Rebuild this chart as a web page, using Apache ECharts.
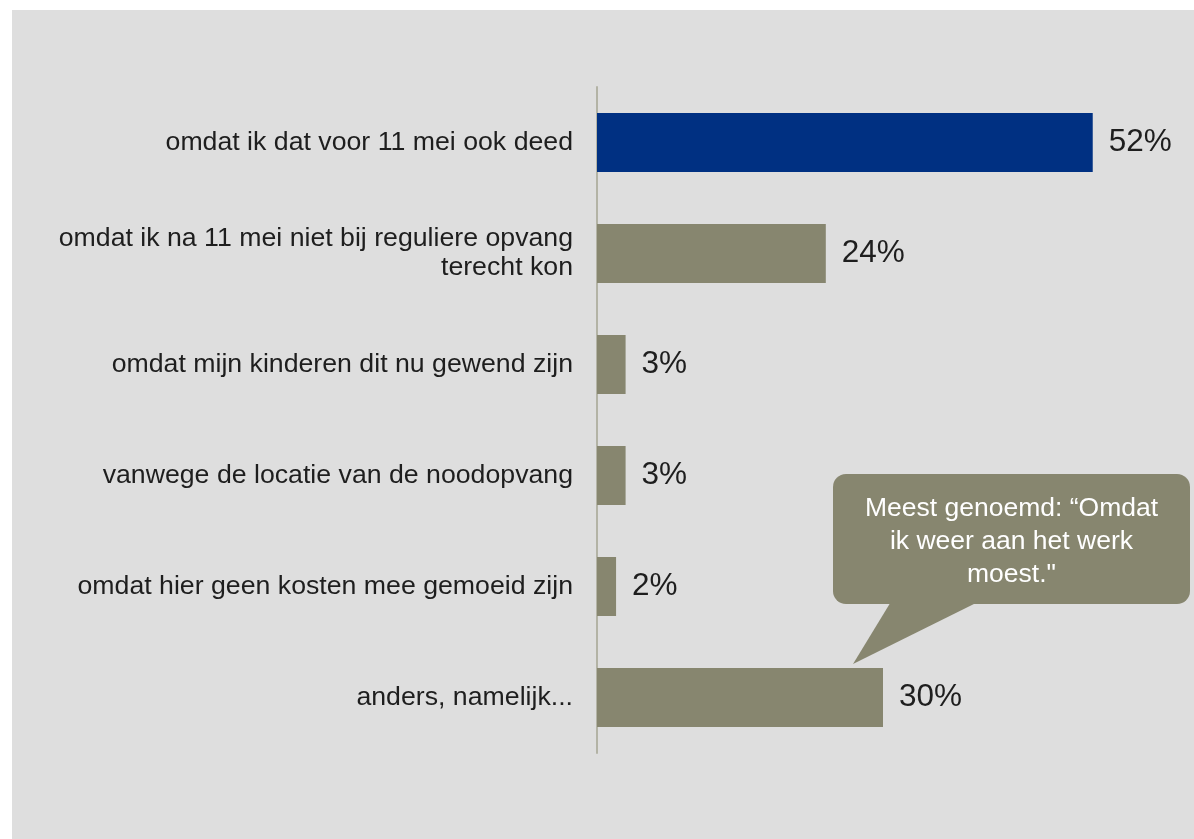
<!DOCTYPE html>
<html>
<head>
<meta charset="utf-8">
<script src="https://cdn.jsdelivr.net/npm/echarts@6/dist/echarts.min.js"></script>
<style>
  html, body { margin: 0; padding: 0; background: #ffffff; width: 1194px; height: 839px; overflow: hidden; }
  #chart { position: absolute; left: 12px; top: 10px; width: 1182px; height: 829px; }
</style>
</head>
<body>
<div id="chart"></div>
<script>
const categories = [
  "omdat ik dat voor 11 mei ook deed",
  "omdat ik na 11 mei niet bij reguliere opvang\nterecht kon",
  "omdat mijn kinderen dit nu gewend zijn",
  "vanwege de locatie van de noodopvang",
  "omdat hier geen kosten mee gemoeid zijn",
  "anders, namelijk..."
];
const values = [52, 24, 3, 3, 2, 30];
const highlightIndex = 0;
const calloutText = "Meest genoemd: \u201cOmdat\nik weer aan het werk\nmoest.\"";

const BLUE = "#003082";
const OLIVE = "#87866f";
const FONT = "'Liberation Sans', Arial, sans-serif";

const chart = echarts.init(document.getElementById('chart'), null, { renderer: 'canvas' });

const gridLeft = 585, gridTop = 77, gridW = 572, gridH = 666;

const option = {
  backgroundColor: '#dedede',
  animation: false,
  grid: { left: gridLeft, top: gridTop, width: gridW, height: gridH, containLabel: false },
  xAxis: {
    type: 'value', min: 0, max: 60,
    show: false
  },
  yAxis: {
    type: 'category',
    data: categories,
    inverse: true,
    axisLine: { show: true, lineStyle: { color: '#b3b3a5', width: 2 } },
    axisTick: { show: false },
    splitLine: { show: false },
    axisLabel: {
      margin: 24,
      color: '#1e1e1e',
      fontFamily: FONT,
      fontSize: 26.7,
      lineHeight: 29,
      align: 'right'
    }
  },
  series: [{
    type: 'bar',
    data: values.map((v, i) => ({ value: v, itemStyle: { color: i === highlightIndex ? BLUE : OLIVE } })),
    barCategoryGap: '47%',
    label: {
      show: true,
      position: 'right',
      distance: 16,
      formatter: p => p.value + '%',
      color: '#1e1e1e',
      fontFamily: FONT,
      fontSize: 31.5
    }
  }],
  graphic: [
    {
      type: 'polygon',
      shape: { points: [[880, 590], [970, 590], [841, 654]] },
      style: { fill: OLIVE },
      z: 10
    },
    {
      type: 'rect',
      shape: { x: 821, y: 464, width: 357, height: 130, r: 13 },
      style: { fill: OLIVE },
      z: 10
    },
    {
      type: 'text',
      x: 999.5, y: 532,
      style: {
        text: calloutText,
        fill: '#ffffff',
        fontFamily: FONT,
        fontSize: 26.5,
        lineHeight: 33,
        align: 'center',
        verticalAlign: 'middle'
      },
      z: 11
    }
  ]
};
chart.setOption(option);
</script>
</body>
</html>
